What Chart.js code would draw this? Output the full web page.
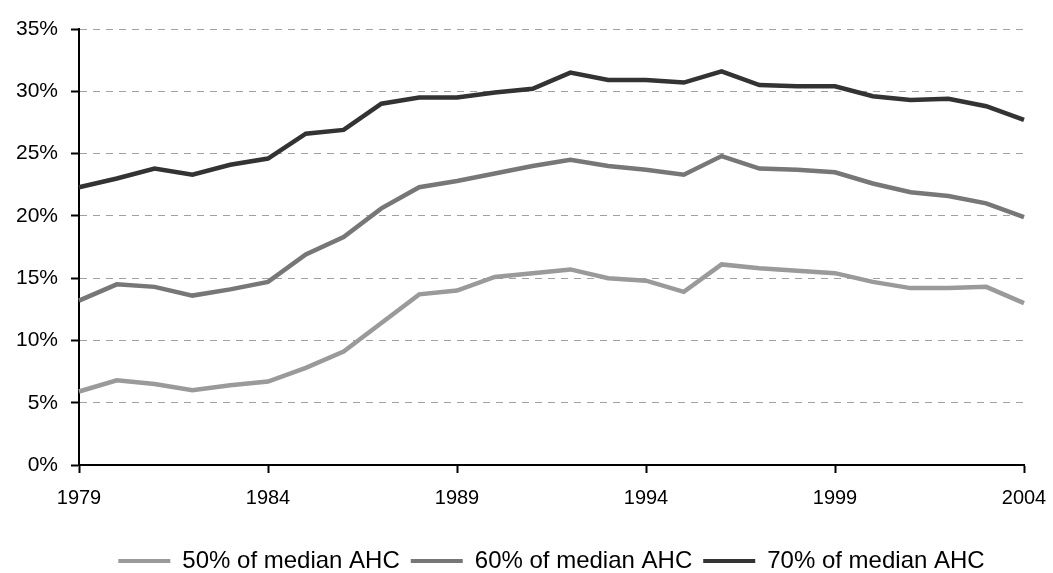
<!DOCTYPE html>
<html>
<head>
<meta charset="utf-8">
<script src="https://cdn.jsdelivr.net/npm/chart.js@4/dist/chart.umd.min.js"></script>
<style>
  body { margin: 0; background: #fff; }
</style>
</head>
<body>
<canvas id="chart" width="1053" height="573"></canvas>
<script>
const years = [1979, 1980, 1981, 1982, 1983, 1984, 1985, 1986, 1987, 1988, 1989, 1990, 1991,
    1992, 1993, 1994, 1995, 1996, 1997, 1998, 1999, 2000, 2001, 2002, 2003, 2004];
const below50 = [5.9, 6.8, 6.5, 6.0, 6.4, 6.7, 7.8, 9.1, 11.4, 13.7, 14.0, 15.1, 15.4,
    15.7, 15.0, 14.8, 13.9, 16.1, 15.8, 15.6, 15.4, 14.7, 14.2, 14.2, 14.3, 13.0];
const below60 = [13.2, 14.5, 14.3, 13.6, 14.1, 14.7, 16.9, 18.3, 20.6, 22.3, 22.8, 23.4, 24.0,
    24.5, 24.0, 23.7, 23.3, 24.8, 23.8, 23.7, 23.5, 22.6, 21.9, 21.6, 21.0, 19.9];
const below70 = [22.3, 23.0, 23.8, 23.3, 24.1, 24.6, 26.6, 26.9, 29.0, 29.5, 29.5, 29.9, 30.2,
    31.5, 30.9, 30.9, 30.7, 31.6, 30.5, 30.4, 30.4, 29.6, 29.3, 29.4, 28.8, 27.7];
const seriesNames = ["50% of median AHC", "60% of median AHC", "70% of median AHC"];

const fontFamily = "'Liberation Sans', Arial, Helvetica, sans-serif";

function line(label, data, color) {
    return {
        label: label,
        data: data,
        borderColor: color,
        backgroundColor: color,
        borderWidth: 4.5,
        pointRadius: 0,
        tension: 0,
    };
}

let ctx = document.getElementById("chart").getContext("2d");
new Chart(ctx, {
    type: "line",
    data: {
        labels: years,
        datasets: [
            line(seriesNames[0], below50, "#9a9a9a"),
            line(seriesNames[1], below60, "#777777"),
            line(seriesNames[2], below70, "#333333"),
        ],
    },
    options: {
        responsive: false,
        animation: false,
        layout: {
            padding: { top: 29, right: 29, bottom: 0, left: 0 },
        },
        plugins: {
            tooltip: { enabled: false },
            legend: {
                position: "bottom",
                fullSize: false,
                maxHeight: 35,
                labels: {
                    boxWidth: 52,
                    boxHeight: 4,
                    padding: 11,
                    color: "#000",
                    font: { family: fontFamily, size: 24 },
                    generateLabels: (chart) =>
                        Chart.defaults.plugins.legend.labels.generateLabels(chart).map((l) => ({
                            ...l,
                            lineWidth: 0,
                            fillStyle: l.strokeStyle,
                        })),
                },
            },
        },
        scales: {
            x: {
                type: "category",
                offset: false,
                afterFit: (s) => {
                    s.height = 73;
                    s.paddingRight = 0;
                },
                border: { color: "#000", width: 2 },
                grid: {
                    drawOnChartArea: false,
                    tickLength: 8,
                    tickWidth: 2,
                    tickColor: (c) => (c.index % 5 === 0 ? "#000" : "rgba(0,0,0,0)"),
                },
                ticks: {
                    autoSkip: false,
                    maxRotation: 0,
                    padding: 13,
                    color: "#000",
                    font: { family: fontFamily, size: 20 },
                    callback: (v, i) => (i % 5 === 0 ? years[i] : ""),
                },
            },
            y: {
                min: 0,
                max: 35,
                afterFit: (s) => { s.width = 79; },
                // in v4 the dash of the grid lines lives on border.dash
                border: { color: "#000", width: 2, dash: [7, 6] },
                grid: {
                    color: "#a0a0a0",
                    lineWidth: 1,
                    tickLength: 8,
                    tickWidth: 2,
                    tickColor: "#000",
                    tickBorderDash: [],
                },
                ticks: {
                    stepSize: 5,
                    padding: 13,
                    color: "#000",
                    font: { family: fontFamily, size: 21 },
                    callback: (v) => v + "%",
                },
            },
        },
    },
});
</script>
</body>
</html>
